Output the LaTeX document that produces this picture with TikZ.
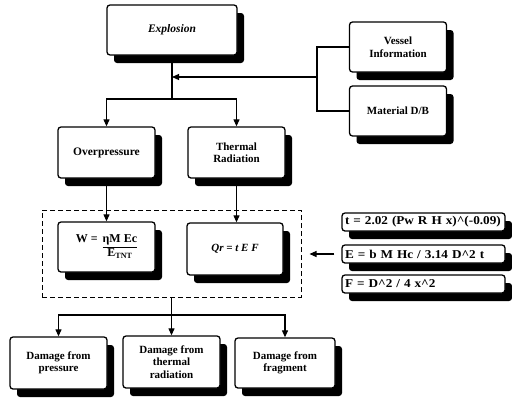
\documentclass[tikz,border=0pt]{standalone}
\usepackage{fontspec}
\setmainfont{Liberation Serif}
\newfontfamily\widefont[FakeStretch=1.1]{Liberation Serif}
\usetikzlibrary{shadows,arrows.meta}
\begin{document}
\begin{tikzpicture}[x=1pt,y=-1pt,
  box/.style={draw, line width=1.3pt, rounded corners=3pt, fill=white, align=center,
    font=\fontsize{11}{12.5}\selectfont\bfseries, inner sep=2pt,
    drop shadow={shadow xshift=7pt, shadow yshift=-8pt, fill=black, opacity=1}},
  fbox/.style={box, text width=157pt, align=left, minimum height=18pt, inner sep=3pt,
    font=\widefont\fontsize{12}{13}\selectfont\bfseries},
  arr/.style={-{Triangle[length=7pt,width=6pt]}, line width=1.1pt},
  ln/.style={line width=1.1pt}]
\useasboundingbox (0,0) rectangle (512,397);

\node[box, minimum width=130pt, minimum height=50pt, font=\fontsize{11.5}{12.5}\selectfont\bfseries\itshape] (expl) at (172,30) {Explosion};
\node[box, minimum width=97pt, minimum height=50pt] (vessel) at (398,47) {Vessel\\Information};
\node[box, minimum width=97pt, minimum height=50pt] (mat) at (398,111) {Material D/B};
\node[box, minimum width=97pt, minimum height=51pt, font=\fontsize{11.5}{12.5}\selectfont\bfseries] (over) at (106.5,152.5) {Overpressure};
\node[box, minimum width=97pt, minimum height=51pt] (therm) at (236.5,152.5) {Thermal\\Radiation};

\node[draw, dash pattern=on 5pt off 3pt, line width=1pt, minimum width=259pt, minimum height=87pt, inner sep=0pt] (dash) at (171.5,253.5) {};
\node[box, minimum width=97pt, minimum height=50pt, font=\fontsize{12}{13}\selectfont\bfseries] (W) at (106.5,247) {%
  \setlength{\arrayrulewidth}{1pt}W =\hspace{5pt}\begin{tabular}[t]{@{}c@{}}ηM Ec\hspace{9pt}\\\hline E\textsubscript{TNT}\end{tabular}};
\node[box, minimum width=96pt, minimum height=52pt, font=\fontsize{11}{12.5}\selectfont\bfseries\itshape] (qr) at (235,249) {Qr = t E F};

\node[fbox] (t) at (423.5,222) {\mbox{t = 2.02 (Pw R H x)\textasciicircum(-0.09)}};
\node[fbox] (e) at (423.5,254) {\mbox{E = b M Hc / 3.14 D\textasciicircum2 t}};
\node[fbox] (f) at (423.5,284) {\mbox{F = D\textasciicircum2 / 4 x\textasciicircum2}};

\node[box, minimum width=97pt, minimum height=52pt] (dp) at (58.5,363) {Damage from\\pressure};
\node[box, minimum width=97pt, minimum height=52pt] (dt) at (171.5,362) {Damage from\\thermal\\radiation};
\node[box, minimum width=100pt, minimum height=50pt] (df) at (285,363) {Damage from\\fragment};

% connectors
\coordinate (j1) at (172,99);
\draw[ln] (expl.south) -- (j1);
\draw[arr] (j1) -| (over.north);
\draw[arr] (j1) -| (therm.north);

\coordinate (b) at (317,77);
\draw[ln] (vessel.west) -| (b) |- (mat.west);
\draw[arr] (b) -- (expl.south |- b);

\draw[arr] (over.south) -- (W.north);
\draw[arr] (therm.south) -- (therm.south |- qr.north);

\draw[arr] ([xshift=-7pt]e.west) -- ([xshift=8pt]dash.east |- e.west);

\coordinate (j2) at (171.5,315);
\draw[ln] (dash.south) -- (j2);
\draw[arr] (j2) -| (dp.north);
\draw[arr] (j2) -- (dt.north);
\draw[arr] (j2) -| (df.north);
\end{tikzpicture}
\end{document}
